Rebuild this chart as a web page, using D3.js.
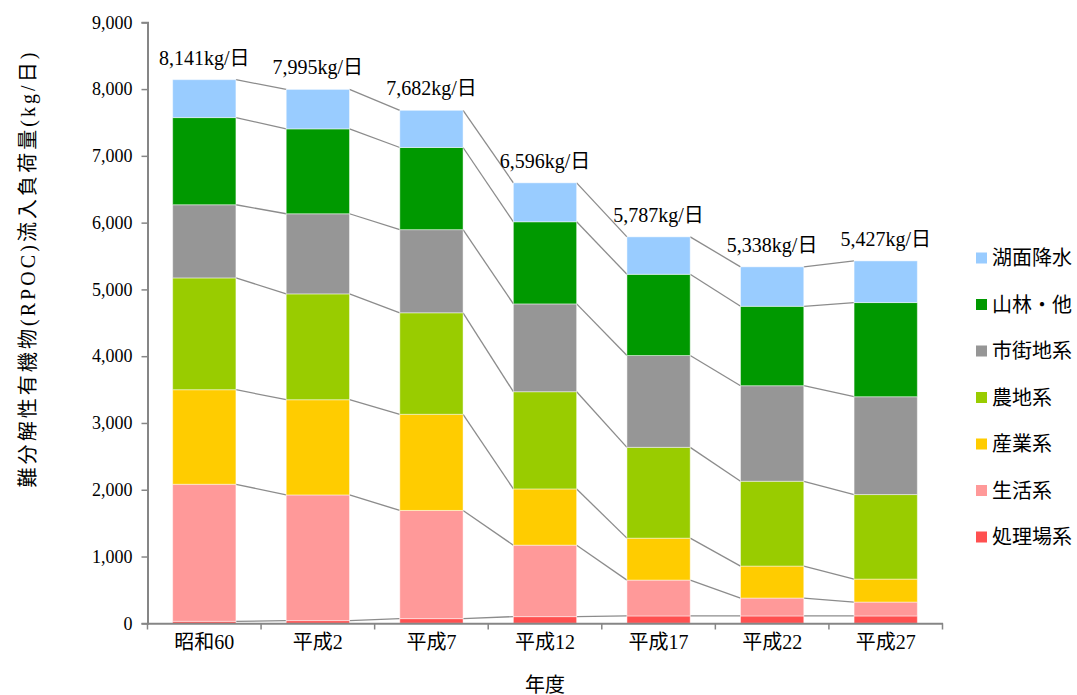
<!DOCTYPE html>
<html>
<head>
<meta charset="utf-8">
<script src="https://cdn.jsdelivr.net/npm/d3@7"></script>
<style>
  html, body { margin: 0; padding: 0; background: #fff; }
  svg { display: block; }
  text { font-family: 'Liberation Serif', 'Noto Sans CJK JP', serif; fill: #000; }
</style>
</head>
<body>
<svg id="chart" width="1077" height="695"></svg>
<script>
// ---- data ----
const categories = ["昭和60", "平成2", "平成7", "平成12", "平成17", "平成22", "平成27"];
const seriesNames = ["処理場系", "生活系", "産業系", "農地系", "市街地系", "山林・他", "湖面降水"];
const shoriba   = [30, 40, 70, 100, 110, 110, 110];
const seikatsu  = [2052, 1882, 1620, 1070, 537, 268, 208];
const sangyo    = [1416, 1426, 1440, 842, 628, 479, 344];
const nochi     = [1674, 1585, 1520, 1456, 1360, 1270, 1266];
const shigaichi = [1096, 1200, 1245, 1315, 1375, 1431, 1465];
const sanrin    = [1305, 1271, 1230, 1230, 1216, 1189, 1410];
const komen     = [568, 591, 557, 583, 561, 591, 624];
const totals    = [8141, 7995, 7682, 6596, 5787, 5338, 5427];
const totalLabels = ["8,141kg/日", "7,995kg/日", "7,682kg/日", "6,596kg/日", "5,787kg/日", "5,338kg/日", "5,427kg/日"];
const yTicks = [0, 1000, 2000, 3000, 4000, 5000, 6000, 7000, 8000, 9000];
const colors = ["#FF5050", "#FF9999", "#FFCC00", "#99CC00", "#969696", "#009900", "#99CCFF"];
const yTitle = "難分解性有機物(RPOC)流入負荷量(kg/日)";
const xTitle = "年度";

const seriesValues = [shoriba, seikatsu, sangyo, nochi, shigaichi, sanrin, komen];

// ---- build table ----
const table = categories.map((c, i) => {
  const row = { cat: c };
  seriesNames.forEach((s, k) => row[s] = seriesValues[k][i]);
  return row;
});
const stacked = d3.stack().keys(seriesNames)(table);

const svg = d3.select("#chart");
const x = d3.scaleBand().domain(categories).range([147.5, 942.5]).paddingInner(0.443).paddingOuter(0.2215);
const y = d3.scaleLinear().domain([0, 9000]).range([623.3, 22.3]);
const bw = x.bandwidth();

// connector lines
const conn = svg.append("g");
stacked.forEach(layer => {
  for (let i = 0; i < categories.length - 1; i++) {
    conn.append("line")
      .attr("x1", x(categories[i]) + bw).attr("y1", y(layer[i][1]))
      .attr("x2", x(categories[i + 1])).attr("y2", y(layer[i + 1][1]))
      .attr("stroke", "#8c8c8c").attr("stroke-width", 1.3);
  }
});

// bars
svg.append("g").selectAll("g").data(stacked).join("g")
  .attr("fill", (d, k) => colors[k])
  .selectAll("rect").data(d => d).join("rect")
  .attr("x", d => x(d.data.cat))
  .attr("y", d => y(d[1]))
  .attr("width", bw)
  .attr("height", d => y(d[0]) - y(d[1]))
  .attr("stroke", "rgba(255,255,255,0.45)")
  .attr("stroke-width", 1);

// axes
const yAxis = svg.append("g").attr("transform", "translate(147.5,0)")
  .call(d3.axisLeft(y).tickValues(yTicks).tickFormat(d3.format(",")).tickSize(6).tickPadding(9));
const xAxis = svg.append("g").attr("transform", "translate(0,623.3)")
  .call(d3.axisBottom(x).tickSize(0).tickPadding(17));
[yAxis, xAxis].forEach(a => {
  a.select(".domain").attr("stroke", "#868686").attr("stroke-width", 2);
  a.selectAll(".tick line").attr("stroke", "#868686").attr("stroke-width", 1.5);
});
yAxis.selectAll("text").attr("font-size", 18).attr("font-family", "'Liberation Serif', serif").attr("fill", "#000");
xAxis.selectAll("text").attr("font-size", 20).attr("fill", "#000").attr("dy", "0.45em");
// x ticks at band boundaries
const step = x.step();
const bounds = d3.range(categories.length + 1).map(i => 147.5 + i * step);
svg.append("g").selectAll("line").data(bounds).join("line")
  .attr("x1", d => d).attr("x2", d => d)
  .attr("y1", 623.3).attr("y2", 629.5)
  .attr("stroke", "#868686").attr("stroke-width", 1.5);

// total labels
svg.append("g").selectAll("text").data(totals).join("text")
  .attr("x", (d, i) => x(categories[i]) + bw / 2)
  .attr("y", d => y(d) - 15)
  .attr("text-anchor", "middle")
  .attr("font-size", 20)
  .text((d, i) => totalLabels[i]);

// titles
svg.append("text")
  .attr("transform", "translate(30,270) rotate(-90)")
  .attr("text-anchor", "middle")
  .attr("dominant-baseline", "middle")
  .attr("font-size", 20)
  .attr("textLength", 435)
  .attr("lengthAdjust", "spacing")
  .text(yTitle);
svg.append("text")
  .attr("x", 545).attr("y", 685)
  .attr("text-anchor", "middle")
  .attr("dominant-baseline", "central")
  .attr("font-size", 20)
  .text(xTitle);

// legend (reverse order)
const legendItems = seriesNames.map((s, k) => ({ s, c: colors[k] })).reverse();
const lg = svg.append("g");
const ly = d3.scaleLinear().domain([0, 6]).range([258, 537]);
legendItems.forEach((d, i) => {
  lg.append("rect").attr("x", 976).attr("y", ly(i) - 5.5).attr("width", 11).attr("height", 11).attr("fill", d.c);
  lg.append("text").attr("x", 992).attr("y", ly(i)).attr("dominant-baseline", "central")
    .attr("font-size", 20).attr("font-family", "'Noto Sans CJK JP', sans-serif").attr("fill", "#333")
    .text(d.s);
});
</script>
</body>
</html>
